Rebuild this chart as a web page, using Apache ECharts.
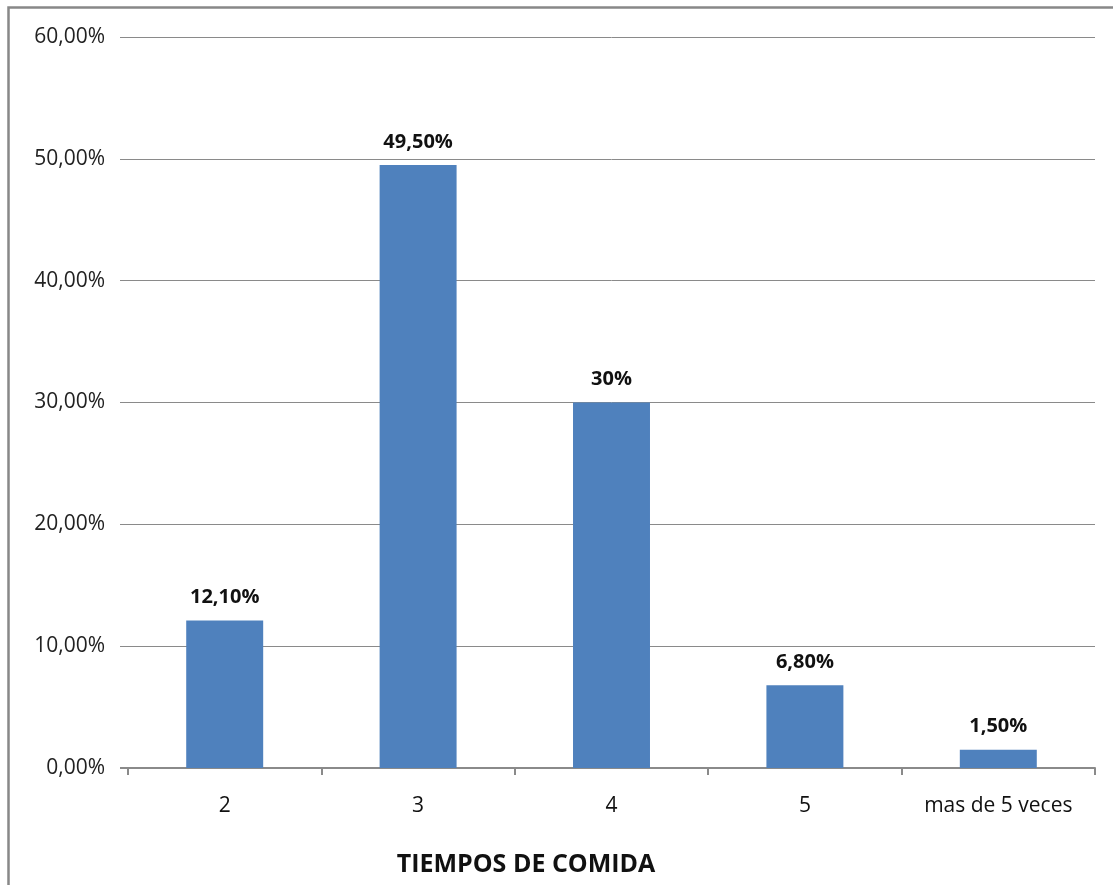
<!DOCTYPE html>
<html>
<head>
<meta charset="utf-8">
<style>
  html, body { margin: 0; padding: 0; background: #ffffff; }
  #chart { width: 1113px; height: 885px; }
</style>
<script src="https://cdn.jsdelivr.net/npm/echarts@6/dist/echarts.min.js"></script>
</head>
<body>
<div id="chart"></div>
<script>
// Meal frequency categories and share of respondents (%)
const categories = ['2', '3', '4', '5', 'mas de 5 veces'];
const percentages = [12.1, 49.5, 30, 6.8, 1.5];
const axisTitle = 'TIEMPOS DE COMIDA';

const FONT = '"Open Sans", Lato, sans-serif';
const GRID_GRAY = '#8a8a8a';

function pct(v, forceDecimals) {
  if (!forceDecimals && Number.isInteger(v)) return v + '%';
  return v.toFixed(2).replace('.', ',') + '%';
}

const chart = echarts.init(document.getElementById('chart'), null, { renderer: 'canvas' });

chart.setOption({
  animation: false,
  backgroundColor: '#ffffff',
  graphic: [
    {
      // outer chart frame (left and top edges)
      type: 'polyline',
      shape: { points: [[8.5, 890], [8.5, 7.5], [1120, 7.5]] },
      style: { stroke: '#888888', lineWidth: 2.5, fill: null }
    },
    {
      // base line continues left to meet the gridline stubs
      type: 'line',
      shape: { x1: 120, y1: 768, x2: 129, y2: 768 },
      style: { stroke: GRID_GRAY, lineWidth: 2 }
    },
    {
      type: 'text',
      x: 526,
      y: 865,
      style: {
        text: axisTitle,
        fontFamily: FONT,
        fontSize: 25,
        fontWeight: 'bold',
        fill: '#111',
        textAlign: 'center',
        textVerticalAlign: 'middle'
      }
    }
  ],
  grid: { left: 128, right: 18, top: 37, bottom: 117, containLabel: false },
  xAxis: {
    type: 'category',
    data: categories,
    boundaryGap: true,
    axisLine: { show: true, lineStyle: { color: GRID_GRAY, width: 2 } },
    axisTick: { show: true, alignWithLabel: false, length: 7, lineStyle: { color: GRID_GRAY, width: 2 } },
    axisLabel: { margin: 28, fontFamily: FONT, fontSize: 21, color: '#111' }
  },
  yAxis: {
    type: 'value',
    min: 0,
    max: 60,
    interval: 10,
    axisLine: { show: false },
    axisTick: { show: true, length: 8, lineStyle: { color: GRID_GRAY, width: 1 } },
    splitLine: { show: true, lineStyle: { color: GRID_GRAY, width: 1 } },
    axisLabel: {
      margin: 23,
      fontFamily: FONT,
      fontSize: 21,
      color: '#222',
      formatter: v => pct(v, true)
    }
  },
  series: [
    {
      type: 'bar',
      data: percentages,
      barWidth: '39.8%',
      itemStyle: { color: '#4f81bd' },
      label: {
        show: true,
        position: 'top',
        distance: 13,
        fontFamily: FONT,
        fontSize: 20,
        fontWeight: 'bold',
        color: '#111',
        formatter: p => pct(p.value, false)
      }
    }
  ]
});
</script>
</body>
</html>
